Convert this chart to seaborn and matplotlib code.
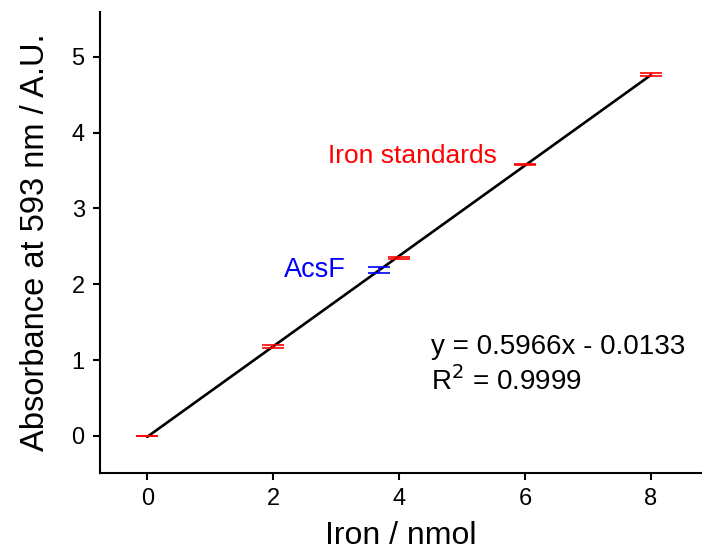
import numpy as np
import pandas as pd
import matplotlib
matplotlib.use("Agg")
import matplotlib.pyplot as plt
import seaborn as sns

# Data
std_iron = [0, 2, 4, 6, 8]
std_abs = [0.0, 1.18, 2.345, 3.58, 4.77]
std_err = [0.003, 0.02, 0.018, 0.003, 0.022]
acsf_iron = [3.68]
acsf_abs = [2.19]
acsf_err = [0.04]
slope = 0.5966
intercept = -0.0133
fit_x = [0, 8]

sns.set_theme(style="ticks")
plt.rcParams['font.family'] = ['Liberation Sans', 'DejaVu Sans']

fig = plt.figure(figsize=(7.02, 5.56), dpi=100)
ax = fig.add_axes([100/702, 83/556, 602/702, 461/556])

fit_df = pd.DataFrame({"x": fit_x, "y": [slope * v + intercept for v in fit_x]})
sns.lineplot(data=fit_df, x="x", y="y", color="black", lw=1.9, ax=ax)

ax.errorbar(std_iron, std_abs, yerr=std_err, fmt="none", ecolor="red",
            capsize=8, capthick=1.2, elinewidth=1.2)
ax.errorbar(acsf_iron, acsf_abs, yerr=acsf_err, fmt="none", ecolor="blue",
            capsize=8, capthick=1.2, elinewidth=1.2)

ax.set_xlim(-0.75, 8.81)
ax.set_ylim(-0.49, 5.59)
ax.set_xticks([0, 2, 4, 6, 8])
ax.set_yticks([0, 1, 2, 3, 4, 5])
ax.tick_params(labelsize=17, width=1.5, length=5, colors="black", pad=6)
for s in ["top", "right"]:
    ax.spines[s].set_visible(False)
for s in ["left", "bottom"]:
    ax.spines[s].set_linewidth(1.5)
    ax.spines[s].set_color("black")

ax.set_xlabel("Iron / nmol", fontsize=23, color="black", labelpad=8)
ax.set_ylabel("Absorbance at 593 nm / A.U.", fontsize=23.5, color="black", labelpad=15)

ax.text(5.55, 3.69, "Iron standards", color="red", fontsize=19, ha="right", va="center")
ax.text(3.155, 2.19, "AcsF", color="blue", fontsize=19.5, ha="right", va="center")
ax.text(4.5, 1.174, "y = 0.5966x - 0.0133", fontsize=20, color="black", ha="left", va="center")
ax.text(4.5, 0.726, "R$^2$ = 0.9999", fontsize=20, color="black", ha="left", va="center")

fig.savefig("out.png", dpi=100)
